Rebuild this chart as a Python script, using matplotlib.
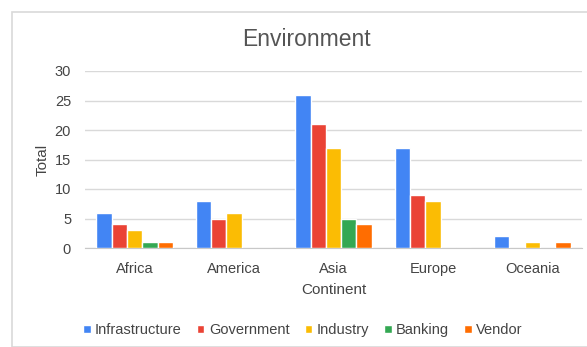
import matplotlib
matplotlib.use("Agg")
import matplotlib.pyplot as plt
import numpy as np
from matplotlib.patches import Rectangle

categories = ["Africa", "America", "Asia", "Europe", "Oceania"]
series_names = ["Infrastructure", "Government", "Industry", "Banking", "Vendor"]
infrastructure = [6, 8, 26, 17, 2]
government = [4, 5, 21, 9, 0]
industry = [3, 6, 17, 8, 1]
banking = [1, 0, 5, 0, 0]
vendor = [1, 0, 4, 0, 1]
colors = ["#4285F4", "#EA4335", "#FBBC04", "#34A853", "#FF6D01"]
yticks = [0, 5, 10, 15, 20, 25, 30]

plt.rcParams['font.family'] = ['Liberation Sans', 'DejaVu Sans']

W, H = 587, 347
fig = plt.figure(figsize=(W / 100, H / 100), dpi=100)
fig.patches.append(Rectangle((12 / W, 0), 1.2, 1 - 12 / H, transform=fig.transFigure,
                             fill=False, edgecolor="#d9d9d9", linewidth=1.2))

ax = fig.add_axes([85 / W, 1 - 248 / H, (582 - 85) / W, (248 - 71) / H])
x = np.arange(len(categories))
values = [infrastructure, government, industry, banking, vendor]
slot = 0.154
for i, (name, vals, c) in enumerate(zip(series_names, values, colors)):
    ax.bar(x + (i - 2) * slot, vals, width=slot, color=c, edgecolor="white",
           linewidth=1.0, label=name, zorder=3)

ax.set_xlim(-0.5, 4.5)
ax.set_ylim(0, 30)
ax.set_yticks(yticks)
ax.set_xticks(x)
ax.set_xticklabels(categories)
ax.grid(axis="y", color="#d9d9d9", linewidth=1.0, zorder=0)
for s in ["top", "right", "left"]:
    ax.spines[s].set_visible(False)
ax.spines["bottom"].set_color("#c8c8c8")
ax.tick_params(axis="both", length=0, colors="#444444", labelsize=10.5)
ax.tick_params(axis="y", pad=10)
ax.tick_params(axis="x", pad=10)

ax.set_xlabel("Continent", fontsize=11, color="#444444", labelpad=5)
ax.set_ylabel("Total", fontsize=11, color="#444444", labelpad=4)

fig.text(306 / W, 1 - 40 / H, "Environment", ha="center", va="center",
         fontsize=16.5, color="#555555")

leg = fig.legend(loc="center", bbox_to_anchor=(303 / W, 1 - 330 / H), ncol=5,
                 frameon=False, fontsize=10.5, handlelength=0.5, handleheight=0.5,
                 handletextpad=0.3, columnspacing=1.05, labelcolor="#444444")

fig.savefig("out.png", dpi=100)
